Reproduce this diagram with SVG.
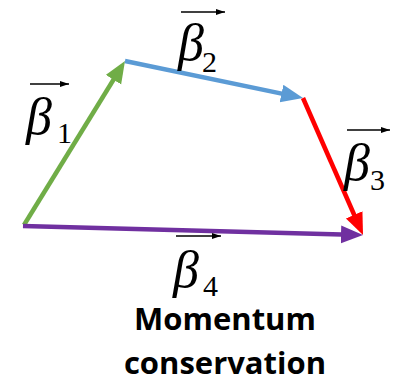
<svg xmlns="http://www.w3.org/2000/svg" width="404" height="383" viewBox="0 0 404 383">
<style>
.v{stroke-width:4.5;fill:none;stroke-linecap:butt}
.beta{font-family:"Liberation Serif","Times New Roman",serif;font-style:italic;font-size:52px;fill:#000}
.sub{font-family:"Liberation Serif","Times New Roman",serif;font-size:30px;fill:#000}
.vec{stroke:#000;stroke-width:1.5;fill:none}
.cap{font-family:"Open Sans","Liberation Sans",sans-serif;font-weight:bold;font-size:31px;fill:#000;text-anchor:middle}
</style>
<defs>
<marker id="hg" markerUnits="userSpaceOnUse" markerWidth="24" markerHeight="20" refX="10" refY="9" orient="auto"><path d="M0,0 L22,9 L0,18 Z" fill="#70AD47"/></marker>
<marker id="hb" markerUnits="userSpaceOnUse" markerWidth="24" markerHeight="20" refX="10" refY="9" orient="auto"><path d="M0,0 L22,9 L0,18 Z" fill="#5B9BD5"/></marker>
<marker id="hr" markerUnits="userSpaceOnUse" markerWidth="24" markerHeight="20" refX="10" refY="9" orient="auto"><path d="M0,0 L22,9 L0,18 Z" fill="#FF0000"/></marker>
<marker id="hp" markerUnits="userSpaceOnUse" markerWidth="24" markerHeight="20" refX="10" refY="9" orient="auto"><path d="M0,0 L22,9 L0,18 Z" fill="#7030A0"/></marker>
<marker id="hk" markerUnits="userSpaceOnUse" markerWidth="10" markerHeight="8" refX="9" refY="3" orient="auto"><path d="M0,0 L9,3 L0,6 Z" fill="#000"/></marker>
</defs>
<g id="connectors">
<path class="v" stroke="#70AD47" d="M24,225 L118.7,71.2" marker-end="url(#hg)"/>
<path class="v" stroke="#5B9BD5" d="M125,61 L291.3,95.6" marker-end="url(#hb)"/>
<path class="v" stroke="#FF0000" d="M303,98 L358.2,224" marker-end="url(#hr)"/>
<path class="v" stroke="#7030A0" d="M23,226 L351,234.7" marker-end="url(#hp)"/>
</g>
<g id="beta1">
<path class="vec" d="M30,84 L69,84" marker-end="url(#hk)"/>
<text class="beta" x="26" y="134">β</text><text class="sub" x="57" y="143">1</text>
</g>
<g id="beta2">
<path class="vec" d="M181,12 L225,12" marker-end="url(#hk)"/>
<text class="beta" x="178" y="60">β</text><text class="sub" x="202" y="72">2</text>
</g>
<g id="beta3">
<path class="vec" d="M347,130 L390,130" marker-end="url(#hk)"/>
<text class="beta" x="344" y="180">β</text><text class="sub" x="370" y="190">3</text>
</g>
<g id="beta4">
<path class="vec" d="M176,236 L221,236" marker-end="url(#hk)"/>
<text class="beta" x="173" y="287">β</text><text class="sub" x="203" y="296">4</text>
</g>
<g id="caption">
<text class="cap" x="225" y="330">Momentum</text>
<text class="cap" x="225" y="374">conservation</text>
</g>
</svg>
